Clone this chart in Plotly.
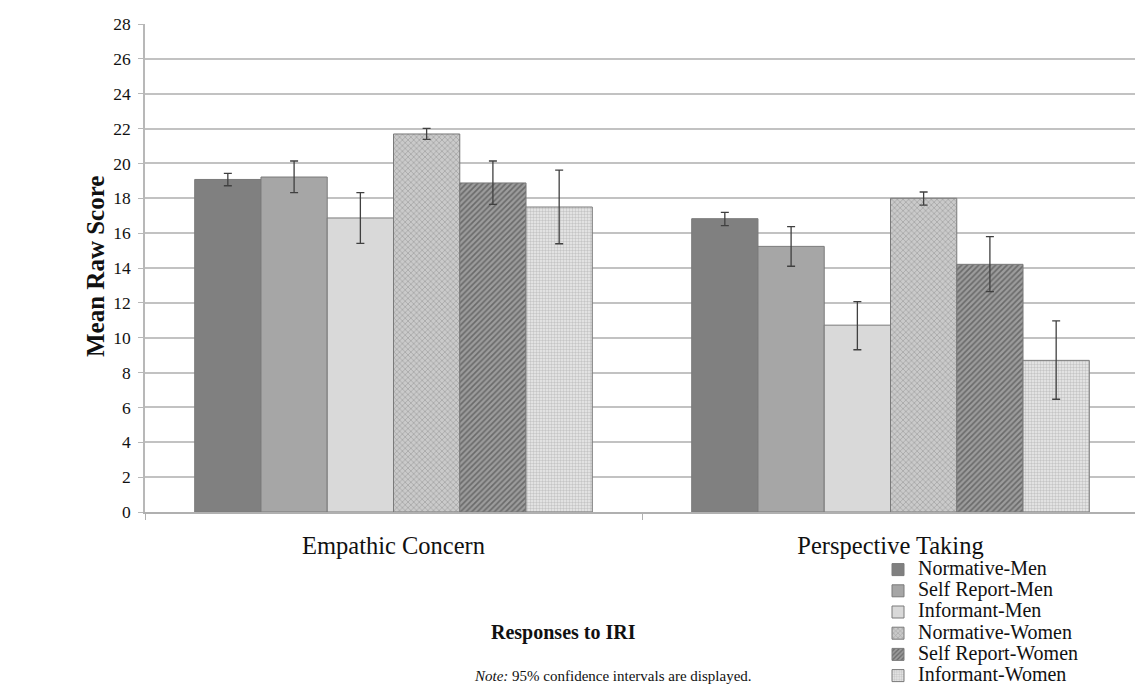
import plotly.graph_objects as go

categories = ["Empathic Concern", "Perspective Taking"]
series_names = ["Normative-Men", "Self Report-Men", "Informant-Men",
                "Normative-Women", "Self Report-Women", "Informant-Women"]
means = [
    [19.08, 16.83],   # Normative-Men
    [19.22, 15.24],   # Self Report-Men
    [16.87, 10.72],   # Informant-Men
    [21.69, 18.00],   # Normative-Women
    [18.88, 14.21],   # Self Report-Women
    [17.50, 8.70],    # Informant-Women
]
ci_upper = [
    [19.43, 17.19],
    [20.14, 16.37],
    [18.32, 12.07],
    [22.01, 18.36],
    [20.14, 15.80],
    [19.62, 10.97],
]
ci_lower = [
    [18.72, 16.43],
    [18.32, 14.10],
    [15.41, 9.31],
    [21.38, 17.61],
    [17.65, 12.64],
    [15.39, 6.47],
]
y_ticks = list(range(0, 29, 2))

styles = [
    dict(color="#808080", pattern=dict(shape="")),
    dict(color="#a6a6a6", pattern=dict(shape="")),
    dict(color="#d9d9d9", pattern=dict(shape="")),
    dict(color="#cacaca", pattern=dict(shape="x", fgcolor="#7e7e7e", size=4, solidity=0.35, fillmode="overlay")),
    dict(color="#9c9c9c", pattern=dict(shape="/", fgcolor="#383838", size=4, solidity=0.42, fillmode="overlay")),
    dict(color="#ebebeb", pattern=dict(shape=".", fgcolor="#a0a0a0", size=3, solidity=0.5, fillmode="overlay")),
]

SERIF = "Liberation Serif, Times New Roman, serif"

fig = go.Figure()
for i, name in enumerate(series_names):
    st = styles[i]
    fig.add_trace(go.Bar(
        name='<span style="font-size:20px">' + name + '</span>',
        x=categories,
        y=means[i],
        marker=dict(color=st["color"], pattern=st["pattern"],
                    line=dict(color="#7a7a7a", width=1)),
        error_y=dict(type="data", symmetric=False,
                     array=[u - m for u, m in zip(ci_upper[i], means[i])],
                     arrayminus=[m - l for m, l in zip(means[i], ci_lower[i])],
                     color="#404040", thickness=1.3, width=4),
    ))

# page has an 8px body offset; figure sized to fit the window
W, H = 1135, 684
ML, MR, MT, MB = 137, 4, 16, 180
pw, ph = W - ML - MR, H - MT - MB


def px_x(page_x):
    return (page_x - 8 - ML) / pw


def px_y(page_y):
    return (H - MB - (page_y - 8)) / ph


fig.update_layout(
    width=W, height=H,
    barmode="group", bargap=0.2, bargroupgap=0,
    paper_bgcolor="white", plot_bgcolor="white",
    margin=dict(l=ML, r=MR, t=MT, b=MB, autoexpand=False),
    font=dict(family=SERIF, color="#111111"),
    legend=dict(x=px_x(878), y=px_y(554), xanchor="left", yanchor="top",
                font=dict(size=14, family=SERIF, color="#111111"),
                tracegroupgap=0, itemwidth=30, bgcolor="rgba(0,0,0,0)"),
    showlegend=True,
    xaxis=dict(showline=True, linecolor="#b0b0b0", linewidth=1.5,
               ticks="outside", tickson="boundaries", ticklen=6, tickcolor="#b0b0b0",
               ticklabelstandoff=11,
               tickfont=dict(size=24.5, family=SERIF, color="#111111")),
    yaxis=dict(range=[0, 28], tickvals=y_ticks, showline=True, linecolor="#b8b8b8",
               linewidth=1.5, ticks="outside", ticklen=5, tickcolor="#b8b8b8",
               gridcolor="#c2c2c2", gridwidth=1.5, zeroline=False,
               ticklabelstandoff=4,
               tickfont=dict(size=17.5, family=SERIF, color="#111111")),
    annotations=[
        dict(text="<b>Mean Raw Score</b>", x=px_x(95), y=px_y(267), xref="paper", yref="paper",
             xanchor="center", yanchor="middle", textangle=-90, showarrow=False,
             font=dict(size=25, family=SERIF, color="#111111")),
        dict(text="<b>Responses to IRI</b>", x=px_x(563), y=px_y(632), xref="paper", yref="paper",
             xanchor="center", yanchor="middle", showarrow=False,
             font=dict(size=20, family=SERIF, color="#111111")),
        dict(text="<i>Note:</i> 95% confidence intervals are displayed.", x=px_x(613), y=px_y(676),
             xref="paper", yref="paper", xanchor="center", yanchor="middle", showarrow=False,
             font=dict(size=15, family=SERIF, color="#111111")),
    ],
)

fig.write_html("out.html")
